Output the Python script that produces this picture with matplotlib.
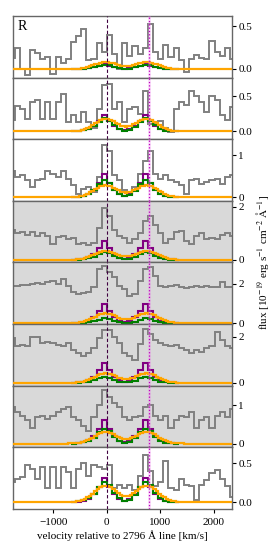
import numpy as np
import matplotlib
matplotlib.use('Agg')
import matplotlib.pyplot as plt

plt.rcParams['font.family'] = ['Liberation Serif', 'DejaVu Serif']
plt.rcParams['mathtext.fontset'] = 'stix'
plt.rcParams['font.size'] = 8

# observed spectra, 96 km/s bins starting at -1824 km/s
edges = np.arange(-1824, 2401, 96)
obs = [
    [0.13, 0.25, 0.0, -0.07, 0.22, 0.19, 0.12, 0.14, -0.06, 0.14, 0.07, 0.12, 0.32, 0.39, 0.47,
     0.10, 0.12, 0.30, 0.20, 0.40, 0.18, 0.00, 0.30, 0.15, 0.27, 0.18, 0.24, 0.52, 0.20, 0.12,
     0.28, 0.14, 0.25, 0.10, -0.04, 0.12, 0.16, 0.13, 0.12, 0.33, 0.20, 0.15, 0.25, 0.12],
    [0.16, 0.37, 0.32, 0.18, 0.42, 0.45, 0.18, 0.42, 0.18, 0.42, 0.54, 0.13, 0.23, 0.13, 0.28,
     0.13, 0.05, 0.32, 0.66, 0.68, 0.32, 0.42, 0.13, 0.32, 0.35, 0.25, 0.58, 0.10, 0.12, 0.15,
     0.05, -0.01, 0.32, 0.42, 0.38, 0.58, 0.50, 0.42, 0.28, 0.50, 0.45, 0.23, 0.16, 0.35],
    [0.63, 0.48, 0.52, 0.40, 0.24, 0.40, 0.44, 0.63, 0.55, 0.48, 0.63, 0.44, 0.28, 0.08, 0.20,
     0.24, 0.12, 0.48, 1.25, 1.10, 0.52, 0.40, 0.16, 0.12, 0.24, 0.55, 0.87, 1.10, 0.55, 0.44,
     0.52, 0.40, 0.36, 0.28, 0.08, 0.40, 0.44, 0.32, 0.36, 0.40, 0.44, 0.32, 0.48, 0.52],
    [1.12, 1.00, 1.05, 0.95, 1.05, 0.89, 1.00, 0.89, 0.60, 0.85, 0.89, 0.78, 0.82, 0.60, 0.65,
     0.54, 0.65, 1.20, 1.94, 1.65, 1.12, 0.89, 0.82, 0.65, 0.78, 1.00, 1.47, 1.65, 1.30, 1.00,
     0.65, 0.78, 1.05, 1.10, 0.72, 0.60, 0.89, 1.00, 0.78, 0.82, 0.78, 0.95, 1.00, 0.89],
    [1.90, 1.90, 1.92, 1.95, 1.99, 2.02, 1.99, 2.07, 2.15, 2.00, 2.24, 1.90, 1.60, 1.47, 1.55,
     1.60, 1.85, 2.75, 2.92, 2.62, 2.33, 1.90, 1.72, 1.38, 1.47, 2.15, 2.75, 2.84, 2.40, 1.90,
     1.85, 1.90, 1.95, 1.85, 1.80, 1.85, 1.90, 1.82, 1.90, 1.85, 1.82, 2.10, 1.85, 1.82],
    [1.93, 1.58, 1.65, 1.58, 2.00, 2.00, 1.72, 1.79, 1.72, 1.65, 1.58, 1.72, 1.43, 1.29, 1.15,
     1.29, 1.50, 1.93, 2.28, 2.30, 2.00, 1.72, 1.30, 1.15, 1.00, 1.70, 2.35, 2.10, 1.86, 1.72,
     1.65, 1.58, 1.65, 1.50, 1.43, 1.29, 1.43, 1.36, 1.50, 1.58, 2.20, 1.86, 1.58, 1.50],
    [0.94, 0.81, 0.72, 0.60, 0.41, 0.68, 0.72, 0.63, 0.72, 0.81, 0.89, 0.94, 0.68, 0.60, 0.46,
     0.32, 0.68, 1.00, 1.40, 1.20, 1.05, 0.94, 0.68, 0.60, 0.68, 0.72, 0.94, 1.00, 0.72, 0.60,
     0.72, 0.41, 0.60, 0.72, 0.68, 0.81, 0.41, 0.60, 0.68, 0.41, 0.72, 0.81, 0.68, 0.89],
    [0.26, 0.30, 0.32, 0.47, 0.43, 0.30, 0.45, 0.18, 0.45, 0.18, 0.45, 0.39, 0.18, 0.43, 0.50,
     0.33, 0.47, 0.45, 0.43, 0.47, 0.18, 0.22, 0.18, 0.22, 0.15, 0.33, 0.60, 0.40, 0.20, 0.26,
     0.52, 0.18, 0.15, 0.30, 0.22, 0.20, 0.03, 0.22, 0.28, 0.37, 0.41, 0.30, 0.20, 0.07],
]

# model profiles (normalised shapes)
model_edges = np.arange(-672, 1345, 96)
purple_shape = [0, 0.02, 0.06, 0.14, 0.32, 0.64, 1.0, 0.64, 0.32, 0.12, 0.06,
                0.12, 0.32, 0.64, 1.0, 0.64, 0.32, 0.14, 0.06, 0.02, 0]
green_shape = [0, 0.03, 0.08, 0.18, 0.4, 0.75, 1.0, 0.82, 0.45, 0.18, 0.06,
               0.1, 0.35, 0.75, 1.0, 0.82, 0.45, 0.18, 0.06, 0.02, 0]
orange_edges = np.arange(-1824, 2401, 48)
orange_core = [0.01, 0.01, 0.02, 0.04, 0.07, 0.12, 0.19, 0.28, 0.39, 0.52,
               0.66, 0.79, 0.90, 0.97, 1.0, 0.98, 0.91, 0.80, 0.68, 0.56,
               0.46, 0.40, 0.38, 0.40, 0.46, 0.56, 0.68, 0.80, 0.91, 0.98,
               1.0, 0.97, 0.90, 0.79, 0.66, 0.52, 0.39, 0.28, 0.19, 0.12,
               0.07, 0.04, 0.02, 0.01, 0.01, 0.0]
orange_shape = np.concatenate([np.zeros(23), orange_core, np.zeros(19)])

purple_amp = [0.06, 0.24, 0.54, 0.70, 0.96, 0.84, 0.61, 0.31]
green_amp = [0.05, 0.19, 0.40, 0.30, 0.24, 0.27, 0.39, 0.26]
orange_amp = [0.08, 0.18, 0.28, 0.34, 0.50, 0.41, 0.30, 0.21]

ylims = [(-0.1, 0.62), (-0.11, 0.77), (-0.09, 1.38), (-0.1, 2.22),
         (-0.05, 3.08), (-0.13, 2.55), (-0.1, 1.5), (-0.09, 0.7)]
yticks = [[0.0, 0.5], [0.0, 0.5], [0, 1], [0, 2], [0, 2], [0, 2], [0, 1], [0.0, 0.5]]
shaded = [3, 4, 5, 6]

fig, axes = plt.subplots(8, 1, figsize=(2.74, 5.48), dpi=100, sharex=True)
fig.subplots_adjust(left=0.047, right=0.847, top=0.971, bottom=0.071, hspace=0)

for i, ax in enumerate(axes):
    if i in shaded:
        ax.set_facecolor('#d9d9d9')
    ax.stairs(obs[i], edges, baseline=None, color='gray', lw=1.4, zorder=2)
    ax.stairs(np.array(purple_shape) * purple_amp[i], model_edges, baseline=None,
              color='purple', lw=1.5, zorder=3)
    ax.stairs(np.array(green_shape) * green_amp[i], model_edges, baseline=None,
              color='green', lw=1.5, zorder=4)
    ax.stairs(orange_shape * orange_amp[i], orange_edges, baseline=None,
              color='orange', lw=1.6, zorder=5)
    ax.axvline(0, color='#400040', ls='--', lw=0.8, dashes=(3, 2), zorder=6)
    ax.axvline(785, color='violet', lw=2, alpha=0.3, zorder=6)
    ax.axvline(785, color='m', ls=':', lw=0.9, zorder=7)
    ax.set_xlim(-1760, 2345)
    ax.set_ylim(*ylims[i])
    ax.yaxis.tick_right()
    ax.set_yticks(yticks[i])
    if isinstance(yticks[i][0], float):
        ax.set_yticklabels(['%.1f' % t for t in yticks[i]])
    ax.tick_params(axis='y', length=3, width=0.8, pad=1.5, labelsize=8)
    ax.tick_params(axis='x', length=3, width=0.8, labelsize=8)
    for sp in ax.spines.values():
        sp.set_color('0.4')
        sp.set_linewidth(1.0)

axes[-1].set_xticks([-1000, 0, 1000, 2000])
axes[-1].set_xlabel('velocity relative to 2796 Å line [km/s]', fontsize=8, labelpad=2)
axes[0].text(0.02, 0.83, 'R', transform=axes[0].transAxes, fontsize=10,
             ha='left', va='center')
fig.text(0.958, 0.522, r'flux [10$^{-19}$ erg s$^{-1}$ cm$^{-2}$ $\mathrm{\AA}^{-1}$]',
         rotation=90, ha='center', va='center', fontsize=8)

fig.savefig('out.png', dpi=100)
